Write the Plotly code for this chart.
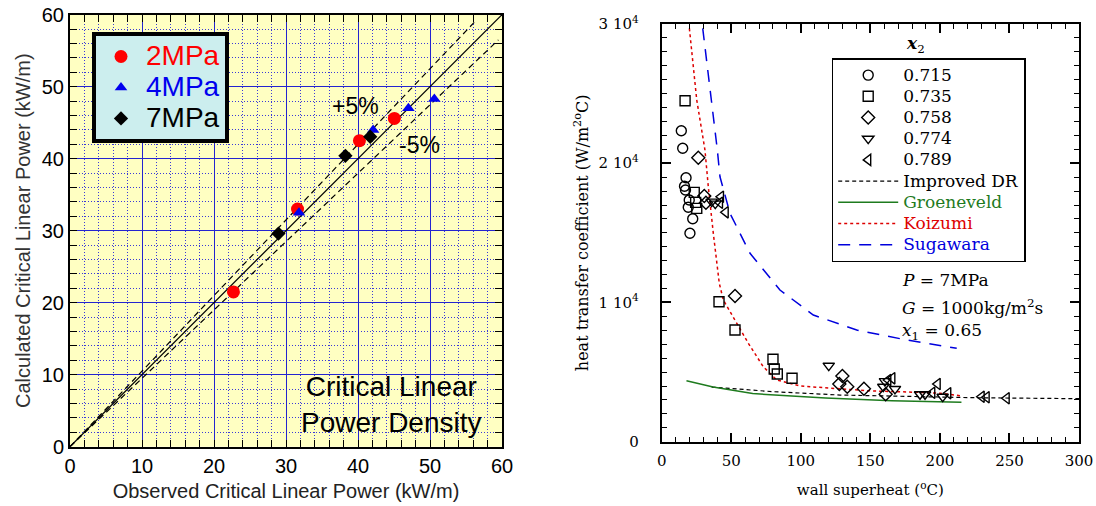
import plotly.graph_objects as go

# ---------------- Left panel: critical linear power ----------------
obs_2mpa = [22.7, 31.6, 40.2, 45.05]
calc_2mpa = [21.5, 33.0, 42.5, 45.6]
obs_4mpa = [31.8, 42.1, 47.0, 50.6]
calc_4mpa = [32.5, 44.0, 47.0, 48.3]
obs_7mpa = [28.95, 38.25, 41.7]
calc_7mpa = [29.6, 40.4, 43.05]

diag_x = [0, 60]
diag_y = [0, 60]
plus5_x = [0, 56.2]
plus5_y = [0, 59.0]
minus5_x = [0, 59.5]
minus5_y = [0, 56.5]

# ---------------- Right panel: heat transfer coefficient ----------------
sh_715 = [14.1, 15.1, 17.5, 16.4, 17.1, 19.8, 19.1, 22.3, 20.3]
htc_715 = [22336, 21072, 18960, 18350, 18080, 17360, 16835, 16016, 14967]
sh_735 = [16.8, 23.4, 24.4, 25.2, 41.2, 52.7, 80.0, 80.9, 83.1, 93.7]
htc_735 = [24490, 17910, 17190, 16760, 10055, 8022, 5918, 5221, 4862, 4553]
sh_758 = [26.3, 30.6, 31.8, 52.7, 129.9, 127.7, 133.4, 145.4, 161.0]
htc_758 = [20400, 17650, 17170, 10465, 4719, 4144, 3950, 3807, 3404]
sh_774 = [35.9, 38.5, 120.1, 159.3, 160.5, 167.7, 185.7, 189.3, 202.0]
htc_774 = [17240, 17100, 5460, 3950, 4350, 3790, 3404, 3404, 3232]
sh_789 = [42.6, 41.9, 46.0, 165.8, 162.9, 198.4, 194.5, 206.0, 230.0, 233.6, 248.0]
htc_789 = [17596, 17165, 16475, 4553, 4431, 4144, 3519, 3476, 3232, 3189, 3117]

dr_x = [35.9, 80.3, 128.2, 176.1, 224.0, 300.0]
dr_y = [3926, 3591, 3352, 3232, 3160, 3088]
gr_x = [17.8, 36.9, 65.4, 117.8, 165.4, 215.5]
gr_y = [4380, 3930, 3455, 3140, 2950, 2830]
ko_x = [19.9, 25.2, 31.1, 33.5, 37.1, 41.4, 44.3, 53.9, 62.3, 73.0, 82.7,
        99.4, 123.4, 150.0, 180.0, 200.0, 215.0]
ko_y = [29690, 24540, 20950, 18314, 14967, 11376, 10177, 8503, 7067, 5387,
        4431, 4000, 3835, 3650, 3560, 3480, 3300]
su_x = [29.5, 35.9, 40.0, 41.9, 49.1, 63.5, 85.0, 109.0, 140.2, 176.1, 212.1]
su_y = [29690, 24540, 20950, 19030, 16400, 13530, 10895, 9100, 8022, 7304, 6705]

x2_labels = ["0.715", "0.735", "0.758", "0.774", "0.789"]

SANS = "Liberation Sans, Arial, sans-serif"
SERIF = "DejaVu Serif, Liberation Serif, serif"
GRID_BLUE = "#2424D0"
MINOR_BLUE = "#3A3AD8"


def big(text, color, size):
    return f"<span style='color:{color};font-size:{size}px'>{text}</span>"


fig = go.Figure()

# parity line and +/-5% band (left)
fig.add_trace(go.Scatter(x=diag_x, y=diag_y, mode="lines", showlegend=False,
                         line=dict(color="black", width=1.2), xaxis="x", yaxis="y"))
fig.add_trace(go.Scatter(x=plus5_x, y=plus5_y, mode="lines", showlegend=False,
                         line=dict(color="black", width=1.2, dash="6px,4px"), xaxis="x", yaxis="y"))
fig.add_trace(go.Scatter(x=minus5_x, y=minus5_y, mode="lines", showlegend=False,
                         line=dict(color="black", width=1.2, dash="6px,4px"), xaxis="x", yaxis="y"))

fig.add_trace(go.Scatter(x=obs_2mpa, y=calc_2mpa, mode="markers",
                         name=big("2MPa", "#FF0000", 28),
                         marker=dict(symbol="circle", size=13, color="#FF0000"),
                         xaxis="x", yaxis="y", legend="legend"))
fig.add_trace(go.Scatter(x=obs_4mpa, y=calc_4mpa, mode="markers",
                         name=big("4MPa", "#0000EE", 28),
                         marker=dict(symbol="triangle-up", size=11, color="#0000EE"),
                         xaxis="x", yaxis="y", legend="legend"))
fig.add_trace(go.Scatter(x=obs_7mpa, y=calc_7mpa, mode="markers",
                         name=big("7MPa", "#000000", 28),
                         marker=dict(symbol="diamond", size=11, color="black"),
                         xaxis="x", yaxis="y", legend="legend"))

# correlation curves (right)
fig.add_trace(go.Scatter(x=dr_x, y=dr_y, mode="lines", name=big("Improved DR", "#000000", 17),
                         legendrank=6, line=dict(color="black", width=1.2, dash="4px,3px"),
                         xaxis="x2", yaxis="y2", legend="legend2"))
fig.add_trace(go.Scatter(x=gr_x, y=gr_y, mode="lines", legendrank=7,
                         name=big("Groeneveld", "#1E7B1E", 17),
                         line=dict(color="#1E7B1E", width=1.5),
                         xaxis="x2", yaxis="y2", legend="legend2"))
fig.add_trace(go.Scatter(x=ko_x, y=ko_y, mode="lines", legendrank=8,
                         name=big("Koizumi", "#DD0000", 17),
                         line=dict(color="#DD0000", width=1.5, dash="dot"),
                         xaxis="x2", yaxis="y2", legend="legend2"))
fig.add_trace(go.Scatter(x=su_x, y=su_y, mode="lines", legendrank=9,
                         name=big("Sugawara", "#0000DD", 17),
                         line=dict(color="#0000DD", width=1.5, dash="12px,9px"),
                         xaxis="x2", yaxis="y2", legend="legend2"))

# measured points (right)
sym = ["circle-open", "square-open", "diamond-open", "triangle-down-open", "triangle-left-open"]
xs = [sh_715, sh_735, sh_758, sh_774, sh_789]
ys = [htc_715, htc_735, htc_758, htc_774, htc_789]
for i, (lab, s, xv, yv) in enumerate(zip(x2_labels, sym, xs, ys)):
    fig.add_trace(go.Scatter(x=xv, y=yv, mode="markers", name=big(lab, "#000000", 17),
                             legendrank=i + 1,
                             marker=dict(symbol=s, size=10, color="black",
                                         line=dict(color="black", width=1.4)),
                             xaxis="x2", yaxis="y2", legend="legend2"))

W, H = 1096, 506
common_left = dict(range=[0, 60], dtick=10, tick0=0, automargin=False,
                   showline=True, linecolor="black", linewidth=2, mirror="allticks",
                   ticks="inside", ticklen=7, tickcolor="black", tickwidth=1,
                   showgrid=True, gridcolor=GRID_BLUE, gridwidth=1.3, zeroline=False,
                   minor=dict(dtick=2, ticks="inside", ticklen=7, tickcolor="black",
                              showgrid=True, gridcolor=MINOR_BLUE, griddash="1px,2px",
                              gridwidth=1),
                   tickfont=dict(family=SANS, size=20, color="black"))
common_right = dict(automargin=False, showline=True, linecolor="black", linewidth=2,
                    mirror="allticks", ticks="inside", ticklen=9, tickcolor="black",
                    tickwidth=1.5, showgrid=False, zeroline=False,
                    tickfont=dict(family=SERIF, size=15, color="black"))

fig.update_layout(
    width=W, height=H, margin=dict(l=0, r=0, t=0, b=0, autoexpand=False),
    paper_bgcolor="white", plot_bgcolor="white",
    xaxis=dict(domain=[70 / W, 502 / W], **common_left,
               title=dict(text="Observed Critical Linear Power (kW/m)", standoff=8,
                          font=dict(family=SANS, size=20, color="#222"))),
    yaxis=dict(domain=[(H - 446.7) / H, (H - 14.7) / H], **common_left,
               title=dict(text="Calculated Critical Linear Power (kW/m)", standoff=6,
                          font=dict(family=SANS, size=20, color="#333"))),
    xaxis2=dict(domain=[661.7 / W, 1079 / W], range=[0, 300], dtick=50, tick0=0,
                anchor="y2", **common_right,
                minor=dict(dtick=10, ticks="inside", ticklen=5, tickcolor="black", tickwidth=1),
                ticklabelstandoff=4,
                title=dict(text="wall superheat (<sup>o</sup>C)", standoff=16,
                           font=dict(family=SERIF, size=15, color="black"))),
    yaxis2=dict(domain=[(H - 441.7) / H, (H - 24) / H], range=[0, 30000],
                anchor="x2", tickvals=[0, 10000, 20000, 30000],
                ticktext=["0", "1 10<sup>4</sup>", "2 10<sup>4</sup>", "3 10<sup>4</sup>"],
                **common_right,
                minor=dict(dtick=1000, ticks="inside", ticklen=5, tickcolor="black", tickwidth=1),
                ticklabelstandoff=18,
                title=dict(text="heat transfer coefficient (W/m<sup>2o</sup>C)", standoff=6,
                           font=dict(family=SERIF, size=16, color="black"))),
    legend=dict(x=92 / W, y=1 - 32 / H, xanchor="left", yanchor="top",
                bgcolor="#CCEEEE", bordercolor="black", borderwidth=4,
                font=dict(family=SANS, size=21.5, color="black"),
                itemwidth=40, tracegroupgap=0),
    legend2=dict(x=831.7 / W, y=1 - 58 / H, xanchor="left", yanchor="top",
                 bgcolor="white", bordercolor="black", borderwidth=1.5,
                 font=dict(family=SERIF, size=14, color="black"),
                 itemwidth=60, tracegroupgap=0),
    showlegend=True,
    shapes=[dict(type="rect", xref="x domain", yref="y domain", x0=0, x1=1, y0=0, y1=1,
                 fillcolor="#FFFFC2", line=dict(width=0), layer="below")],
)

annotations = [
    dict(text="+5%", x=39.6, y=47.3, xref="x", yref="y", showarrow=False,
         font=dict(family=SANS, size=23, color="black")),
    dict(text="-5%", x=48.5, y=41.9, xref="x", yref="y", showarrow=False,
         font=dict(family=SANS, size=23, color="black")),
    dict(text="Critical Linear<br>Power Density", x=44.65, y=5.85, xref="x", yref="y",
         showarrow=False, align="center",
         font=dict(family=SANS, size=28, color="black")),
    dict(text="<b><i>x</i></b><sub>2</sub>", x=927 / W, y=1 - 58 / H, xref="paper", yref="paper",
         yanchor="bottom", showarrow=False, font=dict(family=SERIF, size=17, color="black")),
    dict(text="<i>P</i> = 7MPa", x=171.3, y=11613, xref="x2", yref="y2", xanchor="left",
         showarrow=False, font=dict(family=SERIF, size=17, color="black")),
    dict(text="<i>G</i> = 1000kg/m<sup>2</sup>s", x=171.3, y=9674, xref="x2", yref="y2",
         xanchor="left", showarrow=False, font=dict(family=SERIF, size=17, color="black")),
    dict(text="<i>x</i><sub>1</sub> = 0.65", x=171.3, y=7950, xref="x2", yref="y2",
         xanchor="left", showarrow=False, font=dict(family=SERIF, size=17, color="black")),
]
fig.update_layout(annotations=annotations)

fig.write_html("out.html")
